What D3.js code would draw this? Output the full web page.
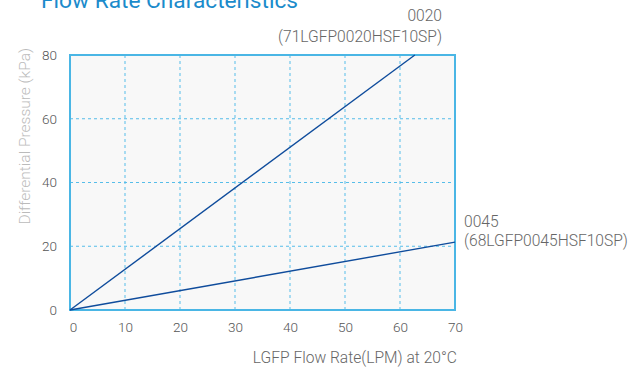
<!DOCTYPE html>
<html>
<head>
<meta charset="utf-8">
<script src="https://cdn.jsdelivr.net/npm/d3@7"></script>
<style>
  html, body { margin: 0; padding: 0; background: #fff; }
  svg { display: block; font-family: Roboto, "Open Sans", sans-serif; }
</style>
</head>
<body>
<svg id="chart" width="643" height="369"></svg>
<script>
// Flow rate (LPM) vs differential pressure (kPa)
const xTicks = [0, 10, 20, 30, 40, 50, 60, 70];
const yTicks = [0, 20, 40, 60, 80];
const flow0020 = [0, 62.7];
const pressure0020 = [0, 80];
const flow0045 = [0, 70];
const pressure0045 = [0, 21.3];
const seriesNames = ["0020", "0045"];
const seriesModels = ["(71LGFP0020HSF10SP)", "(68LGFP0045HSF10SP)"];

const svg = d3.select("#chart");
const m = { left: 70, right: 455, top: 55, bottom: 310 };

const x = d3.scaleLinear().domain([0, 70]).range([m.left, m.right]);
const y = d3.scaleLinear().domain([0, 80]).range([m.bottom, m.top]);

// title (partly above the page edge)
svg.append("text")
  .attr("x", 41).attr("y", 8)
  .attr("fill", "#1b8bcb")
  .attr("font-size", 22.7)
  .text("Flow Rate Characteristics");

// plot background
svg.append("rect")
  .attr("x", m.left).attr("y", m.top)
  .attr("width", m.right - m.left).attr("height", m.bottom - m.top)
  .attr("fill", "#f8f8f8");

// dashed grid
const grid = svg.append("g")
  .attr("stroke", "#56bde9").attr("stroke-width", 1)
  .attr("stroke-dasharray", "3,3");
grid.selectAll("line.v").data(xTicks.slice(1, -1)).join("line")
  .attr("x1", d => x(d)).attr("x2", d => x(d))
  .attr("y1", m.top).attr("y2", m.bottom);
grid.selectAll("line.h").data(yTicks.slice(1, -1)).join("line")
  .attr("x1", m.left).attr("x2", m.right)
  .attr("y1", d => y(d)).attr("y2", d => y(d));

// frame
svg.append("rect")
  .attr("x", m.left).attr("y", m.top)
  .attr("width", m.right - m.left).attr("height", m.bottom - m.top)
  .attr("fill", "none").attr("stroke", "#4ab6e5").attr("stroke-width", 2);

// axes labels via d3 axes
const xAxis = svg.append("g")
  .attr("transform", `translate(0,${m.bottom + 6})`)
  .call(d3.axisBottom(x).tickValues(xTicks).tickSize(0).tickPadding(6));
const yAxis = svg.append("g")
  .attr("transform", `translate(${m.left - 13},0)`)
  .call(d3.axisLeft(y).tickValues(yTicks).tickSize(0).tickPadding(0));
[xAxis, yAxis].forEach(a => {
  a.select(".domain").remove();
  a.selectAll("text")
    .attr("fill", "#555")
    .attr("font-size", 13.5)
    .attr("font-family", "Roboto, sans-serif")
    .attr("font-weight", 300);
});
xAxis.selectAll(".tick").filter(d => d === 0).select("text").attr("dx", 3);

// axis titles
svg.append("text")
  .attr("transform", "translate(30,48) rotate(-90)")
  .attr("text-anchor", "end")
  .attr("fill", "#bbbbbb")
  .attr("font-size", 15.5)
  .attr("font-weight", 300)
  .text("Differential Pressure (kPa)");

svg.append("text")
  .attr("x", 457).attr("y", 363)
  .attr("text-anchor", "end")
  .attr("fill", "#666")
  .attr("font-size", 15.6)
  .attr("font-weight", 300)
  .text("LGFP Flow Rate(LPM) at 20°C");

// series lines
const line = d3.line().x(d => x(d[0])).y(d => y(d[1]));
const series = [
  d3.zip(flow0020, pressure0020),
  d3.zip(flow0045, pressure0045)
];
svg.append("g").selectAll("path").data(series).join("path")
  .attr("d", line)
  .attr("fill", "none")
  .attr("stroke", "#0f4c9c")
  .attr("stroke-width", 1.4);

// series labels
const lab = svg.append("g")
  .attr("fill", "#666").attr("font-size", 15.6).attr("font-weight", 300);
lab.append("text").attr("x", 442).attr("y", 21).attr("text-anchor", "end").text(seriesNames[0]);
lab.append("text").attr("x", 442).attr("y", 42).attr("text-anchor", "end").text(seriesModels[0]);
lab.append("text").attr("x", 464).attr("y", 227).text(seriesNames[1]);
lab.append("text").attr("x", 464).attr("y", 246).text(seriesModels[1]);
</script>
</body>
</html>
